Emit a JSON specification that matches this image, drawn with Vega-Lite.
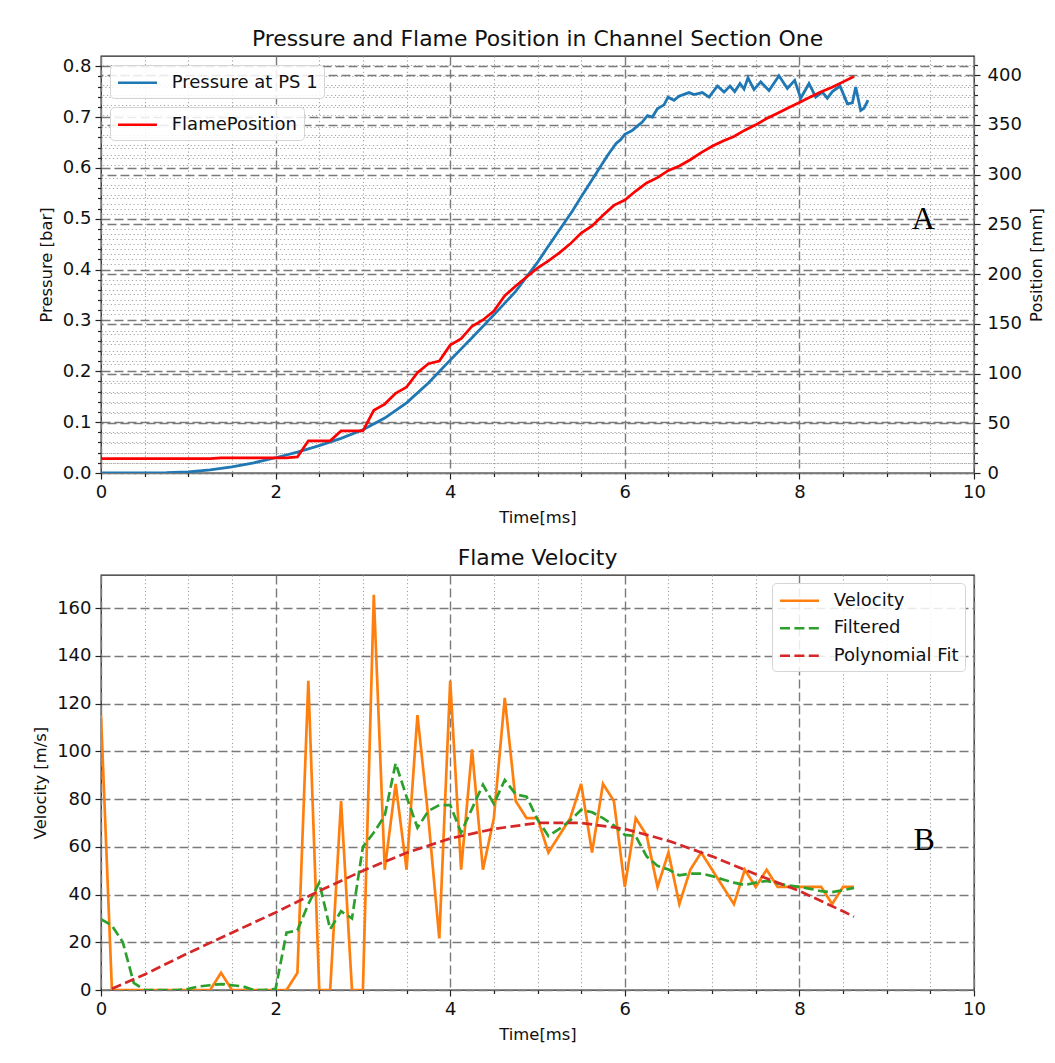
{
  "$schema": "https://vega.github.io/schema/vega-lite/v6.json",
  "background": "white",
  "padding": {"left": 31, "top": 27, "right": 5, "bottom": 5},
  "spacing": 19,
  "config": {
    "font": "DejaVu Sans",
    "view": {"stroke": "#222222", "strokeWidth": 1.3},
    "axis": {"domain": false, "labelFontSize": 18, "labelColor": "#111111", "titleFontSize": 16.4, "titleFontWeight": "normal", "titleColor": "#111111", "tickColor": "#222222", "tickWidth": 1.2, "labelPadding": 4, "labelOverlap": false, "labelFlush": false},
    "title": {"fontSize": 21.9, "fontWeight": "normal", "color": "#111111", "offset": 5},
    "legend": {"labelFontSize": 18, "labelColor": "#111111", "title": null, "symbolStrokeWidth": 2.7}
  },
  "datasets": {
    "pressure": [
      {"t": 0, "p": 0}, {"t": 0.5, "p": 0}, {"t": 0.75, "p": 0.0005}, {"t": 1.0, "p": 0.002}, {"t": 1.25, "p": 0.006},
      {"t": 1.5, "p": 0.012}, {"t": 1.75, "p": 0.02}, {"t": 2.0, "p": 0.03}, {"t": 2.25, "p": 0.041}, {"t": 2.5, "p": 0.054},
      {"t": 2.75, "p": 0.068}, {"t": 3.0, "p": 0.085}, {"t": 3.25, "p": 0.108}, {"t": 3.5, "p": 0.138}, {"t": 3.75, "p": 0.177},
      {"t": 4.0, "p": 0.222}, {"t": 4.25, "p": 0.266}, {"t": 4.5, "p": 0.311}, {"t": 4.75, "p": 0.357}, {"t": 5.0, "p": 0.414},
      {"t": 5.1, "p": 0.44}, {"t": 5.2, "p": 0.465}, {"t": 5.3, "p": 0.49}, {"t": 5.4, "p": 0.515}, {"t": 5.5, "p": 0.543},
      {"t": 5.6, "p": 0.57}, {"t": 5.7, "p": 0.597}, {"t": 5.8, "p": 0.624}, {"t": 5.9, "p": 0.648}, {"t": 5.95, "p": 0.655},
      {"t": 6.0, "p": 0.666}, {"t": 6.08, "p": 0.673}, {"t": 6.15, "p": 0.683}, {"t": 6.2, "p": 0.69}, {"t": 6.26, "p": 0.703},
      {"t": 6.316, "p": 0.7}, {"t": 6.373, "p": 0.716}, {"t": 6.449, "p": 0.724}, {"t": 6.495, "p": 0.739}, {"t": 6.564, "p": 0.733},
      {"t": 6.62, "p": 0.741}, {"t": 6.735, "p": 0.748}, {"t": 6.793, "p": 0.744}, {"t": 6.889, "p": 0.748}, {"t": 6.965, "p": 0.739},
      {"t": 7.061, "p": 0.761}, {"t": 7.137, "p": 0.749}, {"t": 7.205, "p": 0.761}, {"t": 7.259, "p": 0.75}, {"t": 7.32, "p": 0.766},
      {"t": 7.366, "p": 0.755}, {"t": 7.411, "p": 0.777}, {"t": 7.48, "p": 0.754}, {"t": 7.557, "p": 0.769}, {"t": 7.652, "p": 0.752},
      {"t": 7.766, "p": 0.781}, {"t": 7.862, "p": 0.756}, {"t": 7.946, "p": 0.772}, {"t": 8.015, "p": 0.737}, {"t": 8.11, "p": 0.766},
      {"t": 8.187, "p": 0.739}, {"t": 8.263, "p": 0.749}, {"t": 8.32, "p": 0.737}, {"t": 8.378, "p": 0.75}, {"t": 8.465, "p": 0.761},
      {"t": 8.55, "p": 0.726}, {"t": 8.607, "p": 0.728}, {"t": 8.645, "p": 0.759}, {"t": 8.702, "p": 0.713}, {"t": 8.74, "p": 0.717},
      {"t": 8.786, "p": 0.733}
    ],
    "flame": [
      {"t": 0, "pos": 14.4}, {"t": 0.125, "pos": 14.4}, {"t": 0.25, "pos": 14.4}, {"t": 0.375, "pos": 14.4}, {"t": 0.5, "pos": 14.4},
      {"t": 0.625, "pos": 14.4}, {"t": 0.75, "pos": 14.4}, {"t": 0.875, "pos": 14.4}, {"t": 1.0, "pos": 14.4}, {"t": 1.125, "pos": 14.4},
      {"t": 1.25, "pos": 14.4}, {"t": 1.375, "pos": 15.3}, {"t": 1.5, "pos": 15.3}, {"t": 1.625, "pos": 15.3}, {"t": 1.75, "pos": 15.3},
      {"t": 1.875, "pos": 15.3}, {"t": 2.0, "pos": 15.3}, {"t": 2.125, "pos": 15.3}, {"t": 2.25, "pos": 16.2}, {"t": 2.375, "pos": 32.4},
      {"t": 2.5, "pos": 32.4}, {"t": 2.625, "pos": 32.4}, {"t": 2.75, "pos": 42.3}, {"t": 2.875, "pos": 42.3}, {"t": 3.0, "pos": 42.3},
      {"t": 3.125, "pos": 63.0}, {"t": 3.25, "pos": 69.3}, {"t": 3.375, "pos": 80.1}, {"t": 3.5, "pos": 86.4}, {"t": 3.625, "pos": 100.8},
      {"t": 3.75, "pos": 109.8}, {"t": 3.875, "pos": 112.5}, {"t": 4.0, "pos": 128.7}, {"t": 4.125, "pos": 135.0}, {"t": 4.25, "pos": 147.6},
      {"t": 4.375, "pos": 153.9}, {"t": 4.5, "pos": 162.9}, {"t": 4.625, "pos": 178.2}, {"t": 4.75, "pos": 188.1}, {"t": 4.875, "pos": 197.1},
      {"t": 5.0, "pos": 206.1}, {"t": 5.125, "pos": 213.3}, {"t": 5.25, "pos": 221.4}, {"t": 5.375, "pos": 230.4}, {"t": 5.5, "pos": 241.2},
      {"t": 5.625, "pos": 248.4}, {"t": 5.75, "pos": 259.2}, {"t": 5.875, "pos": 269.1}, {"t": 6.0, "pos": 274.5}, {"t": 6.125, "pos": 283.5},
      {"t": 6.25, "pos": 291.6}, {"t": 6.375, "pos": 297.0}, {"t": 6.5, "pos": 304.2}, {"t": 6.625, "pos": 308.7}, {"t": 6.75, "pos": 315.0},
      {"t": 6.875, "pos": 322.2}, {"t": 7.0, "pos": 328.5}, {"t": 7.125, "pos": 333.9}, {"t": 7.25, "pos": 338.4}, {"t": 7.375, "pos": 344.7},
      {"t": 7.5, "pos": 350.1}, {"t": 7.625, "pos": 356.4}, {"t": 7.75, "pos": 361.8}, {"t": 7.875, "pos": 367.2}, {"t": 8.0, "pos": 372.6},
      {"t": 8.125, "pos": 378.0}, {"t": 8.25, "pos": 383.4}, {"t": 8.375, "pos": 387.9}, {"t": 8.5, "pos": 393.3}, {"t": 8.625, "pos": 398.7}
    ],
    "vel": [
      {"t": 0, "v": 115.2, "s": "Velocity"}, {"t": 0.125, "v": 0, "s": "Velocity"}, {"t": 0.25, "v": 0, "s": "Velocity"}, {"t": 0.375, "v": 0, "s": "Velocity"},
      {"t": 0.5, "v": 0, "s": "Velocity"}, {"t": 0.625, "v": 0, "s": "Velocity"}, {"t": 0.75, "v": 0, "s": "Velocity"}, {"t": 0.875, "v": 0, "s": "Velocity"},
      {"t": 1.0, "v": 0, "s": "Velocity"}, {"t": 1.125, "v": 0, "s": "Velocity"}, {"t": 1.25, "v": 0, "s": "Velocity"}, {"t": 1.375, "v": 7.2, "s": "Velocity"},
      {"t": 1.5, "v": 0, "s": "Velocity"}, {"t": 1.625, "v": 0, "s": "Velocity"}, {"t": 1.75, "v": 0, "s": "Velocity"}, {"t": 1.875, "v": 0, "s": "Velocity"},
      {"t": 2.0, "v": 0, "s": "Velocity"}, {"t": 2.125, "v": 0, "s": "Velocity"}, {"t": 2.25, "v": 7.2, "s": "Velocity"}, {"t": 2.375, "v": 129.6, "s": "Velocity"},
      {"t": 2.5, "v": 0, "s": "Velocity"}, {"t": 2.625, "v": 0, "s": "Velocity"}, {"t": 2.75, "v": 79.2, "s": "Velocity"}, {"t": 2.875, "v": 0, "s": "Velocity"},
      {"t": 3.0, "v": 0, "s": "Velocity"}, {"t": 3.125, "v": 165.6, "s": "Velocity"}, {"t": 3.25, "v": 50.4, "s": "Velocity"}, {"t": 3.375, "v": 86.4, "s": "Velocity"},
      {"t": 3.5, "v": 50.4, "s": "Velocity"}, {"t": 3.625, "v": 115.2, "s": "Velocity"}, {"t": 3.75, "v": 72, "s": "Velocity"}, {"t": 3.875, "v": 21.6, "s": "Velocity"},
      {"t": 4.0, "v": 129.6, "s": "Velocity"}, {"t": 4.125, "v": 50.4, "s": "Velocity"}, {"t": 4.25, "v": 100.8, "s": "Velocity"}, {"t": 4.375, "v": 50.4, "s": "Velocity"},
      {"t": 4.5, "v": 72, "s": "Velocity"}, {"t": 4.625, "v": 122.4, "s": "Velocity"}, {"t": 4.75, "v": 79.2, "s": "Velocity"}, {"t": 4.875, "v": 72, "s": "Velocity"},
      {"t": 5.0, "v": 72, "s": "Velocity"}, {"t": 5.125, "v": 57.6, "s": "Velocity"}, {"t": 5.25, "v": 64.8, "s": "Velocity"}, {"t": 5.375, "v": 72, "s": "Velocity"},
      {"t": 5.5, "v": 86.4, "s": "Velocity"}, {"t": 5.625, "v": 57.6, "s": "Velocity"}, {"t": 5.75, "v": 86.4, "s": "Velocity"}, {"t": 5.875, "v": 79.2, "s": "Velocity"},
      {"t": 6.0, "v": 43.2, "s": "Velocity"}, {"t": 6.125, "v": 72, "s": "Velocity"}, {"t": 6.25, "v": 64.8, "s": "Velocity"}, {"t": 6.375, "v": 43.2, "s": "Velocity"},
      {"t": 6.5, "v": 57.6, "s": "Velocity"}, {"t": 6.625, "v": 36, "s": "Velocity"}, {"t": 6.75, "v": 50.4, "s": "Velocity"}, {"t": 6.875, "v": 57.6, "s": "Velocity"},
      {"t": 7.0, "v": 50.4, "s": "Velocity"}, {"t": 7.125, "v": 43.2, "s": "Velocity"}, {"t": 7.25, "v": 36, "s": "Velocity"}, {"t": 7.375, "v": 50.4, "s": "Velocity"},
      {"t": 7.5, "v": 43.2, "s": "Velocity"}, {"t": 7.625, "v": 50.4, "s": "Velocity"}, {"t": 7.75, "v": 43.2, "s": "Velocity"}, {"t": 7.875, "v": 43.2, "s": "Velocity"},
      {"t": 8.0, "v": 43.2, "s": "Velocity"}, {"t": 8.125, "v": 43.2, "s": "Velocity"}, {"t": 8.25, "v": 43.2, "s": "Velocity"}, {"t": 8.375, "v": 36, "s": "Velocity"},
      {"t": 8.5, "v": 43.2, "s": "Velocity"}, {"t": 8.625, "v": 43.2, "s": "Velocity"},
      {"t": 0, "v": 29.7, "s": "Filtered"}, {"t": 0.125, "v": 27, "s": "Filtered"}, {"t": 0.25, "v": 20, "s": "Filtered"}, {"t": 0.375, "v": 3, "s": "Filtered"},
      {"t": 0.5, "v": 0, "s": "Filtered"}, {"t": 0.625, "v": 0, "s": "Filtered"}, {"t": 0.75, "v": 0, "s": "Filtered"}, {"t": 0.875, "v": 0, "s": "Filtered"},
      {"t": 1.0, "v": 0.5, "s": "Filtered"}, {"t": 1.125, "v": 1.5, "s": "Filtered"}, {"t": 1.25, "v": 2, "s": "Filtered"}, {"t": 1.375, "v": 2.5, "s": "Filtered"},
      {"t": 1.5, "v": 2, "s": "Filtered"}, {"t": 1.625, "v": 1.5, "s": "Filtered"}, {"t": 1.75, "v": 0, "s": "Filtered"}, {"t": 1.875, "v": 0, "s": "Filtered"},
      {"t": 2.0, "v": 0.5, "s": "Filtered"}, {"t": 2.125, "v": 24, "s": "Filtered"}, {"t": 2.25, "v": 25, "s": "Filtered"}, {"t": 2.375, "v": 36, "s": "Filtered"},
      {"t": 2.5, "v": 45, "s": "Filtered"}, {"t": 2.625, "v": 25.5, "s": "Filtered"}, {"t": 2.75, "v": 33, "s": "Filtered"}, {"t": 2.875, "v": 30, "s": "Filtered"},
      {"t": 3.0, "v": 60, "s": "Filtered"}, {"t": 3.125, "v": 66, "s": "Filtered"}, {"t": 3.25, "v": 73, "s": "Filtered"}, {"t": 3.375, "v": 95, "s": "Filtered"},
      {"t": 3.5, "v": 81, "s": "Filtered"}, {"t": 3.625, "v": 68, "s": "Filtered"}, {"t": 3.75, "v": 75, "s": "Filtered"}, {"t": 3.875, "v": 77.5, "s": "Filtered"},
      {"t": 4.0, "v": 77.5, "s": "Filtered"}, {"t": 4.125, "v": 66, "s": "Filtered"}, {"t": 4.25, "v": 76, "s": "Filtered"}, {"t": 4.375, "v": 86, "s": "Filtered"},
      {"t": 4.5, "v": 78, "s": "Filtered"}, {"t": 4.625, "v": 88, "s": "Filtered"}, {"t": 4.75, "v": 82, "s": "Filtered"}, {"t": 4.875, "v": 81, "s": "Filtered"},
      {"t": 5.0, "v": 71.5, "s": "Filtered"}, {"t": 5.125, "v": 64.5, "s": "Filtered"}, {"t": 5.25, "v": 67.5, "s": "Filtered"}, {"t": 5.375, "v": 71, "s": "Filtered"},
      {"t": 5.5, "v": 75.5, "s": "Filtered"}, {"t": 5.625, "v": 74.5, "s": "Filtered"}, {"t": 5.75, "v": 72, "s": "Filtered"}, {"t": 5.875, "v": 69, "s": "Filtered"},
      {"t": 6.0, "v": 65, "s": "Filtered"}, {"t": 6.125, "v": 64.5, "s": "Filtered"}, {"t": 6.25, "v": 56, "s": "Filtered"}, {"t": 6.375, "v": 52, "s": "Filtered"},
      {"t": 6.5, "v": 50.5, "s": "Filtered"}, {"t": 6.625, "v": 48, "s": "Filtered"}, {"t": 6.75, "v": 48.8, "s": "Filtered"}, {"t": 6.875, "v": 48.8, "s": "Filtered"},
      {"t": 7.0, "v": 47.7, "s": "Filtered"}, {"t": 7.125, "v": 46.3, "s": "Filtered"}, {"t": 7.25, "v": 45, "s": "Filtered"}, {"t": 7.375, "v": 44, "s": "Filtered"},
      {"t": 7.5, "v": 45, "s": "Filtered"}, {"t": 7.625, "v": 45.7, "s": "Filtered"}, {"t": 7.75, "v": 44.7, "s": "Filtered"}, {"t": 7.875, "v": 43.8, "s": "Filtered"},
      {"t": 8.0, "v": 43.2, "s": "Filtered"}, {"t": 8.125, "v": 42.4, "s": "Filtered"}, {"t": 8.25, "v": 41.4, "s": "Filtered"}, {"t": 8.375, "v": 41, "s": "Filtered"},
      {"t": 8.5, "v": 41.8, "s": "Filtered"}, {"t": 8.625, "v": 42.8, "s": "Filtered"},
      {"t": 0.125, "v": 0.5, "s": "Polynomial Fit"}, {"t": 0.5, "v": 6.5, "s": "Polynomial Fit"}, {"t": 1.0, "v": 15.5, "s": "Polynomial Fit"},
      {"t": 1.5, "v": 24, "s": "Polynomial Fit"}, {"t": 2.0, "v": 32.5, "s": "Polynomial Fit"}, {"t": 2.5, "v": 41.5, "s": "Polynomial Fit"},
      {"t": 3.0, "v": 50, "s": "Polynomial Fit"}, {"t": 3.5, "v": 57.5, "s": "Polynomial Fit"}, {"t": 4.0, "v": 63.5, "s": "Polynomial Fit"},
      {"t": 4.5, "v": 67.5, "s": "Polynomial Fit"}, {"t": 5.0, "v": 70, "s": "Polynomial Fit"}, {"t": 5.5, "v": 70, "s": "Polynomial Fit"},
      {"t": 6.0, "v": 67.5, "s": "Polynomial Fit"}, {"t": 6.5, "v": 62.5, "s": "Polynomial Fit"}, {"t": 7.0, "v": 56, "s": "Polynomial Fit"},
      {"t": 7.5, "v": 48.5, "s": "Polynomial Fit"}, {"t": 8.0, "v": 41.5, "s": "Polynomial Fit"}, {"t": 8.5, "v": 33, "s": "Polynomial Fit"},
      {"t": 8.625, "v": 30.7, "s": "Polynomial Fit"}
    ],
    "labelA": [{"t": 9.42, "y": 0.5, "txt": "A"}],
    "labelB": [{"t": 9.43, "y": 63, "txt": "B"}]
  },
  "vconcat": [
    {
      "title": {"text": "Pressure and Flame Position in Channel Section One"},
      "width": 873,
      "height": 417,
      "layer": [
        {
          "data": {"name": "pressure"},
          "mark": {"type": "line", "strokeWidth": 2.8, "clip": true},
          "encoding": {
            "x": {"field": "t", "type": "quantitative", "scale": {"domain": [0, 10], "nice": false},
              "axis": {"title": "Time[ms]", "titlePadding": 8,
                "values": [0, 0.5, 1, 1.5, 2, 2.5, 3, 3.5, 4, 4.5, 5, 5.5, 6, 6.5, 7, 7.5, 8, 8.5, 9, 9.5, 10],
                "labelExpr": "datum.value % 2 === 0 ? format(datum.value, 'd') : ''",
                "grid": true,
                "gridDash": {"condition": {"test": "datum.value % 2 !== 0", "value": [1.2, 2.6]}, "value": [9, 4]},
                "gridColor": {"condition": {"test": "datum.value % 2 !== 0", "value": "#a5a5a5"}, "value": "#7a7a7a"},
                "gridWidth": {"condition": {"test": "datum.value % 2 !== 0", "value": 1.1}, "value": 1.4},
                "tickSize": {"condition": {"test": "datum.value % 2 !== 0", "value": 3.5}, "value": 6}}},
            "y": {"field": "p", "type": "quantitative", "scale": {"domain": [0, 0.82], "nice": false, "zero": false},
              "axis": {"title": "Pressure [bar]", "orient": "left", "titlePadding": 8,
                "values": [0, 0.02, 0.04, 0.06, 0.08, 0.1, 0.12, 0.14, 0.16, 0.18, 0.2, 0.22, 0.24, 0.26, 0.28, 0.3, 0.32, 0.34, 0.36, 0.38, 0.4, 0.42, 0.44, 0.46, 0.48, 0.5, 0.52, 0.54, 0.56, 0.58, 0.6, 0.62, 0.64, 0.66, 0.68, 0.7, 0.72, 0.74, 0.76, 0.78, 0.8],
                "labelExpr": "abs(datum.value * 10 - round(datum.value * 10)) < 0.001 ? format(datum.value, '.1f') : ''",
                "grid": true,
                "gridDash": {"condition": {"test": "abs(datum.value * 10 - round(datum.value * 10)) > 0.001", "value": [1.2, 2.6]}, "value": [9, 4]},
                "gridColor": {"condition": {"test": "abs(datum.value * 10 - round(datum.value * 10)) > 0.001", "value": "#a5a5a5"}, "value": "#7a7a7a"},
                "gridWidth": {"condition": {"test": "abs(datum.value * 10 - round(datum.value * 10)) > 0.001", "value": 1.1}, "value": 1.4},
                "tickSize": {"condition": {"test": "abs(datum.value * 10 - round(datum.value * 10)) > 0.001", "value": 3.5}, "value": 6}}},
            "color": {"datum": "Pressure at PS 1", "scale": {"range": ["#1f77b4"]},
              "legend": {"orient": "none", "legendX": 9, "legendY": 9, "symbolType": "M-1,0H3", "symbolSize": 380, "labelOffset": 32.5, "padding": 6.25, "strokeColor": "#d5d5d5", "fillColor": "rgba(255,255,255,0.85)", "cornerRadius": 4}}
          }
        },
        {
          "data": {"name": "flame"},
          "mark": {"type": "line", "strokeWidth": 2.7, "clip": true},
          "encoding": {
            "x": {"field": "t", "type": "quantitative", "scale": {"domain": [0, 10], "nice": false}},
            "y": {"field": "pos", "type": "quantitative", "scale": {"domain": [0, 419.3], "nice": false, "zero": false},
              "axis": {"title": "Position [mm]", "orient": "right", "titlePadding": 7, "titleAngle": 270, "titleBaseline": "top", "labelPadding": 7,
                "values": [0, 10, 20, 30, 40, 50, 60, 70, 80, 90, 100, 110, 120, 130, 140, 150, 160, 170, 180, 190, 200, 210, 220, 230, 240, 250, 260, 270, 280, 290, 300, 310, 320, 330, 340, 350, 360, 370, 380, 390, 400, 410],
                "labelExpr": "datum.value % 50 === 0 ? format(datum.value, 'd') : ''",
                "grid": true,
                "gridDash": {"condition": {"test": "datum.value % 50 !== 0", "value": [1.2, 2.6]}, "value": [9, 4]},
                "gridColor": {"condition": {"test": "datum.value % 50 !== 0", "value": "#a5a5a5"}, "value": "#7a7a7a"},
                "gridWidth": {"condition": {"test": "datum.value % 50 !== 0", "value": 1.1}, "value": 1.4},
                "tickSize": {"condition": {"test": "datum.value % 50 !== 0", "value": 3.5}, "value": 6}}},
            "color": {"datum": "FlamePosition", "scale": {"range": ["#ff0000"]},
              "legend": {"orient": "none", "legendX": 9, "legendY": 51, "symbolType": "M-1,0H3", "symbolSize": 380, "labelOffset": 32.5, "padding": 6.25, "strokeColor": "#d5d5d5", "fillColor": "rgba(255,255,255,0.85)", "cornerRadius": 4}}
          }
        },
        {
          "data": {"name": "labelA"},
          "mark": {"type": "text", "font": "Liberation Serif", "fontSize": 32, "color": "#000000", "align": "center", "baseline": "middle"},
          "encoding": {
            "x": {"field": "t", "type": "quantitative", "scale": {"domain": [0, 10], "nice": false}},
            "y": {"field": "y", "type": "quantitative", "scale": {"domain": [0, 0.82], "nice": false, "zero": false}, "axis": null},
            "text": {"field": "txt"}
          }
        }
      ],
      "resolve": {"scale": {"y": "independent", "color": "independent"}}
    },
    {
      "title": {"text": "Flame Velocity"},
      "width": 873,
      "height": 415,
      "layer": [
        {
          "data": {"name": "vel"},
          "mark": {"type": "line", "strokeWidth": 2.7, "clip": true},
          "encoding": {
            "x": {"field": "t", "type": "quantitative", "scale": {"domain": [0, 10], "nice": false},
              "axis": {"title": "Time[ms]", "titlePadding": 8,
                "values": [0, 0.5, 1, 1.5, 2, 2.5, 3, 3.5, 4, 4.5, 5, 5.5, 6, 6.5, 7, 7.5, 8, 8.5, 9, 9.5, 10],
                "labelExpr": "datum.value % 2 === 0 ? format(datum.value, 'd') : ''",
                "grid": true,
                "gridDash": {"condition": {"test": "datum.value % 2 !== 0", "value": [1.2, 2.6]}, "value": [9, 4]},
                "gridColor": {"condition": {"test": "datum.value % 2 !== 0", "value": "#a5a5a5"}, "value": "#7a7a7a"},
                "gridWidth": {"condition": {"test": "datum.value % 2 !== 0", "value": 1.1}, "value": 1.4},
                "tickSize": {"condition": {"test": "datum.value % 2 !== 0", "value": 3.5}, "value": 6}}},
            "y": {"field": "v", "type": "quantitative", "scale": {"domain": [0, 173.9], "nice": false, "zero": false},
              "axis": {"title": "Velocity [m/s]", "titlePadding": 8,
                "values": [0, 5, 10, 15, 20, 25, 30, 35, 40, 45, 50, 55, 60, 65, 70, 75, 80, 85, 90, 95, 100, 105, 110, 115, 120, 125, 130, 135, 140, 145, 150, 155, 160, 165, 170],
                "labelExpr": "datum.value % 20 === 0 ? format(datum.value, 'd') : ''",
                "grid": true,
                "gridDash": {"condition": {"test": "datum.value % 20 !== 0", "value": [1.2, 2.6]}, "value": [9, 4]},
                "gridColor": {"condition": {"test": "datum.value % 20 !== 0", "value": "#a5a5a5"}, "value": "#7a7a7a"},
                "gridWidth": {"condition": {"test": "datum.value % 20 !== 0", "value": 1.1}, "value": 1.4},
                "tickSize": {"condition": {"test": "datum.value % 20 !== 0", "value": 3.5}, "value": 6}}},
            "color": {"field": "s", "type": "nominal",
              "scale": {"domain": ["Velocity", "Filtered", "Polynomial Fit"], "range": ["#ff7f0e", "#2ca02c", "#d62728"]},
              "legend": {"orient": "none", "legendX": 671, "legendY": 527, "symbolType": "M-1,0H3", "symbolSize": 380, "labelOffset": 32.5, "padding": 6.25, "rowPadding": 6.5, "strokeColor": "#d5d5d5", "fillColor": "rgba(255,255,255,0.85)", "cornerRadius": 4}},
            "strokeDash": {"field": "s", "type": "nominal",
              "scale": {"domain": ["Velocity", "Filtered", "Polynomial Fit"], "range": [[1, 0], [10, 4.4], [10, 4.4]]},
              "legend": {"orient": "none", "legendX": 671, "legendY": 527, "symbolType": "M-1,0H3", "symbolSize": 380, "labelOffset": 32.5, "padding": 6.25, "rowPadding": 6.5, "strokeColor": "#d5d5d5", "fillColor": "rgba(255,255,255,0.85)", "cornerRadius": 4}}
          }
        },
        {
          "data": {"name": "labelB"},
          "mark": {"type": "text", "font": "Liberation Serif", "fontSize": 32, "color": "#000000", "align": "center", "baseline": "middle"},
          "encoding": {
            "x": {"field": "t", "type": "quantitative"},
            "y": {"field": "y", "type": "quantitative"},
            "text": {"field": "txt"}
          }
        }
      ]
    }
  ]
}
